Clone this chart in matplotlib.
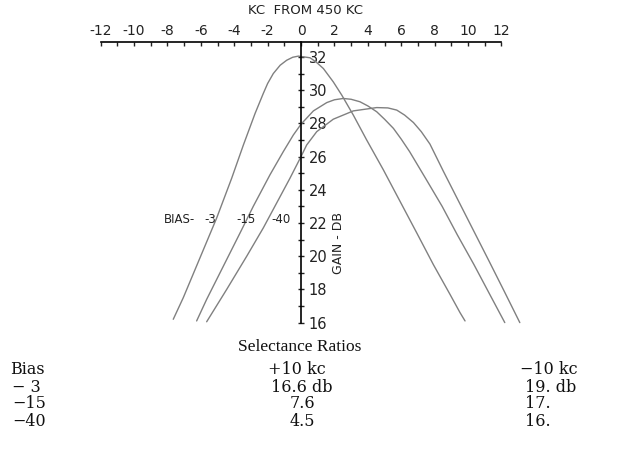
import matplotlib

matplotlib.use("Agg")
import matplotlib.pyplot as plt

plt.rcParams["axes.unicode_minus"] = False

# gain curves: kc from 450 kc -> gain in db
bias_labels = ["-3", "-15", "-40"]

kc_bias_3 = [-7.65, -7.05, -6.05, -5.05, -4.15, -3.45, -2.75, -2.26, -2.0, -1.66, -1.25, -0.86,
             -0.5, -0.16, 0.54, 0.9, 1.34, 1.93, 2.44, 3.13, 3.93, 4.93, 5.93, 6.93, 7.92,
             8.92, 9.52, 9.82]
gain_bias_3 = [16.2, 17.5, 19.9, 22.3, 24.7, 26.7, 28.6, 29.8, 30.4, 31.0, 31.5, 31.8,
               31.98, 32.05, 31.95, 31.7, 31.3, 30.5, 29.7, 28.5, 27.0, 25.2, 23.3, 21.4, 19.5,
               17.7, 16.6, 16.1]

kc_bias_15 = [-6.25, -5.65, -4.65, -3.65, -2.86, -1.86, -1.06, -0.46, 0.0, 0.74, 1.54, 2.0,
              2.53, 3.0, 3.53, 4.0, 4.53, 5.0, 5.53, 6.0, 6.5, 7.45, 8.45, 9.35, 10.35,
              11.3, 12.2]
gain_bias_15 = [16.1, 17.4, 19.4, 21.4, 23.0, 24.9, 26.3, 27.3, 27.95, 28.75, 29.25, 29.42,
                29.5, 29.45, 29.3, 29.05, 28.7, 28.25, 27.7, 27.05, 26.3, 24.7, 23.0, 21.3,
                19.5, 17.7, 16.0]

kc_bias_40 = [-5.65, -4.45, -3.25, -2.26, -1.46, -0.66, 0.0, 0.34, 0.94, 1.93, 3.13,
              4.53, 5.2, 5.73, 6.2, 6.73, 7.2, 7.72, 8.53, 9.44, 10.35, 11.26, 12.16, 13.1]
gain_bias_40 = [16.05, 18.0, 20.0, 21.7, 23.2, 24.7, 26.0, 26.7, 27.5, 28.25, 28.75,
                28.95, 28.93, 28.8, 28.5, 28.05, 27.5, 26.75, 25.1, 23.3, 21.5, 19.7, 17.9,
                16.0]

# where the bias labels sit (kc)
bias_label_kc = [-5.45, -3.3, -1.2]

# selectance ratio table
table_bias = ["\u2212 3", "\u221215", "\u221240"]
table_plus10 = ["16.6 db", "7.6", "4.5"]
table_minus10 = ["19. db", "17.", "16."]

W, H = 620, 451
fig = plt.figure(figsize=(W / 100, H / 100), dpi=100)
fig.patch.set_facecolor("white")

# axes placed so that kc 0 lands on x=301 px and the top line at y=42 px
ax = fig.add_axes([83.9 / W, 1 - 330.9 / H, (526.5 - 83.9) / W, (330.9 - 42) / H])
ax.set_xlim(-13, 13.5)
ax.set_ylim(15.5, 32.9)
ax.patch.set_alpha(0)

curve_color = "#808080"
for xs, ys in [(kc_bias_3, gain_bias_3), (kc_bias_15, gain_bias_15), (kc_bias_40, gain_bias_40)]:
    ax.plot(xs, ys, color=curve_color, lw=1.0, solid_capstyle="round", solid_joinstyle="round")

hand = {"family": "DejaVu Sans", "color": "#222222"}

ax.spines["left"].set_visible(False)
ax.spines["bottom"].set_visible(False)
ax.spines["top"].set_bounds(-12, 12)
ax.spines["top"].set_linewidth(1.2)
ax.spines["right"].set_position(("data", 0))
ax.spines["right"].set_bounds(16, 32.9)
ax.spines["right"].set_linewidth(1.2)

ax.xaxis.tick_top()
ax.set_xticks(range(-12, 13, 2))
ax.set_xticks(range(-12, 13), minor=True)
ax.tick_params(axis="x", which="both", direction="in", length=3, width=1, pad=3,
               labelsize=10, colors="#222222")
ax.set_xlabel("KC  FROM 450 KC", fontsize=9.5, labelpad=7, **hand)
ax.xaxis.set_label_position("top")

ax.yaxis.tick_right()
ax.set_yticks(range(16, 33, 2))
ax.set_yticks(range(16, 33), minor=True)
ax.tick_params(axis="y", which="both", direction="inout", length=5, width=1, pad=3,
               labelsize=10.5, colors="#222222")

ax.text(2.25, 20.8, "GAIN - DB", rotation=90, ha="center", va="center", fontsize=9, **hand)

ax.text(-7.25, 22.2, "BIAS-", ha="center", va="center", fontsize=8.5, **hand)
for lbl, kx in zip(bias_labels, bias_label_kc):
    ax.text(kx, 22.2, lbl, ha="center", va="center", fontsize=8.5, **hand)

# table below the chart
title_font = {"family": "Liberation Serif", "color": "#111111", "fontsize": 12.5}
row_font = {"family": "DejaVu Serif", "color": "#111111", "fontsize": 11.5}


def put(x_px, y_px, s, ha="left", font=row_font):
    fig.text(x_px / W, 1 - y_px / H, s, ha=ha, va="center", **font)


put(300, 347, "Selectance Ratios", ha="center", font=title_font)
put(10, 370, "Bias")
put(268, 370, "+10 kc")
put(520, 370, "\u221210 kc")
for i, (b, p, m) in enumerate(zip(table_bias, table_plus10, table_minus10)):
    y = 387 + i * 17
    put(12, y, b)
    put(302, y, p, ha="center")
    put(525, y, m)

fig.savefig("out.png", dpi=100, facecolor="white")
